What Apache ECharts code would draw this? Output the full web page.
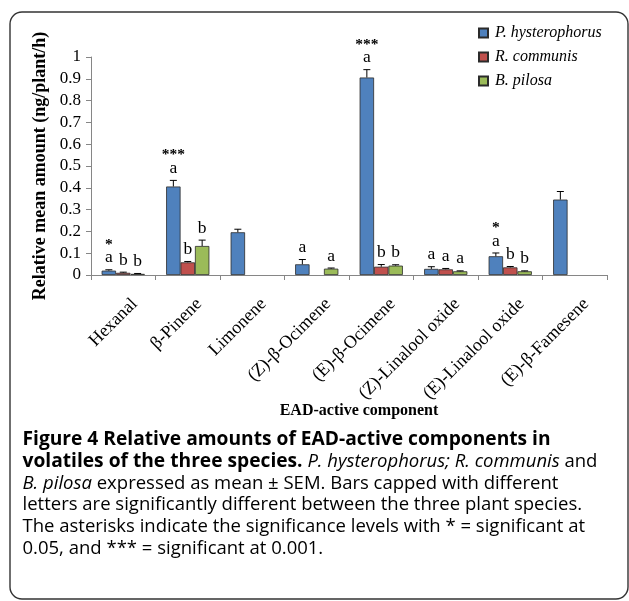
<!DOCTYPE html>
<html>
<head>
<meta charset="utf-8">
<script src="https://cdn.jsdelivr.net/npm/echarts@6/dist/echarts.min.js"></script>
<style>
html,body{margin:0;padding:0;background:#fff;}
#chart{width:629px;height:601px;}
</style>
</head>
<body>
<div id="chart"></div>
<script>
// ---- data ----
var categories = ['Hexanal', 'β-Pinene', 'Limonene', '(Z)-β-Ocimene', '(E)-β-Ocimene', '(Z)-Linalool oxide', '(E)-Linalool oxide', '(E)-β-Famesene'];
var seriesNames = ['P. hysterophorus', 'R. communis', 'B. pilosa'];
var pValues = [0.020, 0.406, 0.196, 0.049, 0.906, 0.028, 0.086, 0.346];
var pErr    = [0.004, 0.028, 0.014, 0.022, 0.036, 0.010, 0.015, 0.037];
var rValues = [0.010, 0.058, null, null, 0.038, 0.026, 0.035, null];
var rErr    = [0.003, 0.004, null, null, 0.010, 0.004, 0.004, null];
var bValues = [0.005, 0.133, null, 0.029, 0.043, 0.017, 0.017, null];
var bErr    = [0.002, 0.027, null, 0.003, 0.004, 0.002, 0.002, null];
var pLetters = ['a', 'a', '', 'a', 'a', 'a', 'a', ''];
var rLetters = ['b', 'b', '', '', 'b', 'a', 'b', ''];
var bLetters = ['b', 'b', '', 'a', 'b', 'a', 'b', ''];
var pStars   = ['*', '***', '', '', '***', '', '*', ''];
var noStars  = ['', '', '', '', '', '', '', ''];
var yTicks = ['0', '0.1', '0.2', '0.3', '0.4', '0.5', '0.6', '0.7', '0.8', '0.9', '1'];

var colors = ['#4F81BD', '#C0504D', '#9BBB59'];
var values = [pValues, rValues, bValues];
var errs = [pErr, rErr, bErr];
var letters = [pLetters, rLetters, bLetters];
var stars = [pStars, noStars, noStars];
var CAT_GAP = 0.33;
var SERIF = '"Liberation Serif","Times New Roman",serif';

var chart = echarts.init(document.getElementById('chart'), null, {renderer: 'canvas'});

var series = [];
values.forEach(function (vals, s) {
  series.push({
    name: seriesNames[s],
    type: 'bar',
    data: vals,
    barGap: '0%',
    barCategoryGap: (CAT_GAP * 100) + '%',
    itemStyle: {color: colors[s], borderColor: '#2b2b2b', borderWidth: 0.8},
    z: 2
  });
});
values.forEach(function (vals, s) {
  var d = vals.map(function (v, i) {
    return [i, v == null ? 0 : v, errs[s][i] == null ? 0 : errs[s][i], letters[s][i], stars[s][i], v == null ? 0 : 1];
  });
  series.push({
    type: 'custom',
    name: seriesNames[s] + ' err',
    data: d,
    z: 5,
    silent: true,
    encode: {x: 0, y: 1},
    renderItem: function (params, api) {
      var ci = api.value(0);
      var val = api.value(1);
      var er = api.value(2);
      var letter = d[params.dataIndex][3];
      var star = d[params.dataIndex][4];
      var has = api.value(5);
      var band = api.size([1, 0])[0];
      var bw = band * (1 - CAT_GAP) / 3;
      var center = api.coord([ci, 0]);
      var x = center[0] - band * (1 - CAT_GAP) / 2 + bw * (s + 0.5);
      var yTop = api.coord([ci, val])[1];
      var yErr = api.coord([ci, val + er])[1];
      var children = [];
      if (has) {
        children.push({type: 'line', shape: {x1: x, y1: yTop, x2: x, y2: yErr}, style: {stroke: '#000', lineWidth: 1}});
        children.push({type: 'line', shape: {x1: x - 3.5, y1: yErr, x2: x + 3.5, y2: yErr}, style: {stroke: '#000', lineWidth: 1}});
      }
      if (letter) {
        children.push({type: 'text', x: x, y: yErr - 3, style: {text: letter, align: 'center', verticalAlign: 'bottom', fontFamily: SERIF, fontSize: 17.5, fill: '#000'}});
      }
      if (star) {
        children.push({type: 'text', x: x, y: yErr - 25, style: {text: star, align: 'center', verticalAlign: 'middle', fontFamily: SERIF, fontSize: 15.5, fontWeight: 'bold', fill: '#000'}});
      }
      return {type: 'group', children: children};
    }
  });
});

var capFont = '"Open Sans","Noto Sans",sans-serif';
var rich = {
  b: {fontFamily: capFont, fontWeight: 'bold', fontSize: 19.2, color: '#231f20'},
  n: {fontFamily: capFont, fontSize: 18.5, color: '#444444'},
  i: {fontFamily: capFont, fontStyle: 'italic', fontSize: 18.5, color: '#444444'}
};
var capLines = [
  '{b|Figure 4 Relative amounts of EAD-active components in}',
  '{b|volatiles of the three species.}{n| }{i|P. hysterophorus; R. communis}{n| and}',
  '{i|B. pilosa}{n| expressed as mean ± SEM. Bars capped with different}',
  '{n|letters are significantly different between the three plant species.}',
  '{n|The asterisks indicate the significance levels with * = significant at}',
  '{n|0.05, and *** = significant at 0.001.}'
];
var graphics = [{
  type: 'rect', shape: {x: 10, y: 12, width: 618, height: 587, r: 12},
  style: {fill: 'none', stroke: '#333', lineWidth: 1.4}, z: 0
}];
capLines.forEach(function (t, k) {
  graphics.push({type: 'text', x: 22.5, y: 440 + k * 21.7, style: {text: t, rich: rich, verticalAlign: 'middle', align: 'left'}});
});

chart.setOption({
  backgroundColor: '#fff',
  animation: false,
  color: colors,
  grid: {left: 91, right: 22, top: 57, bottom: 326, containLabel: false},
  legend: {
    data: seriesNames,
    orient: 'vertical',
    left: 473,
    top: 19.5,
    itemWidth: 9,
    itemHeight: 9,
    itemGap: 7,
    icon: 'rect',
    textStyle: {fontFamily: SERIF, fontStyle: 'italic', fontSize: 16, color: '#000', lineHeight: 17, padding: [0, 0, 0, 2]}
  },
  xAxis: {
    type: 'category',
    data: categories,
    name: 'EAD-active component',
    nameLocation: 'middle',
    nameGap: 128,
    nameMoveOverlap: false,
    nameTextStyle: {fontFamily: SERIF, fontWeight: 'bold', fontSize: 16, color: '#000', padding: [0, 0, 0, 20]},
    axisLine: {lineStyle: {color: '#868686', width: 1}},
    axisTick: {show: true, length: 5, lineStyle: {color: '#868686'}},
    axisLabel: {rotate: 45, margin: 15, lineHeight: 32, verticalAlign: 'top', align: 'right', fontFamily: SERIF, fontSize: 18, color: '#000', interval: 0}
  },
  yAxis: {
    type: 'value',
    min: 0,
    max: 1,
    interval: 0.1,
    name: 'Relative mean amount (ng/plant/h)',
    nameLocation: 'middle',
    nameGap: 40,
    nameTextStyle: {fontFamily: SERIF, fontWeight: 'bold', fontSize: 18, color: '#000'},
    axisLine: {show: true, lineStyle: {color: '#868686', width: 1}},
    axisTick: {show: true, length: 5, lineStyle: {color: '#868686'}},
    splitLine: {show: false},
    axisLabel: {margin: 10, fontFamily: SERIF, fontSize: 17, color: '#000',
      formatter: function (v) { return yTicks[Math.round(v * 10)]; }}
  },
  graphic: graphics,
  series: series
});
</script>
</body>
</html>
